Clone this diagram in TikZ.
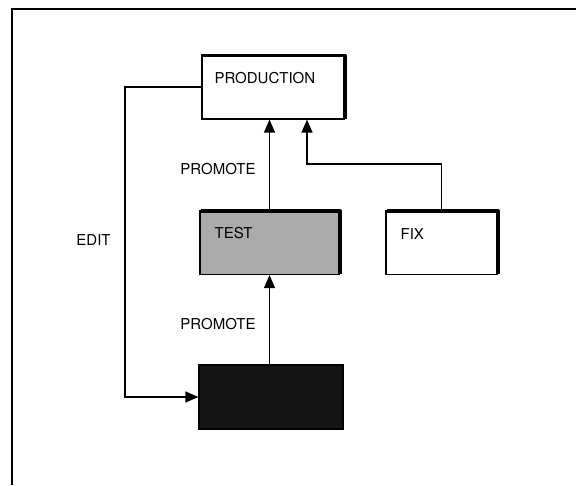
\documentclass[tikz,border=0pt]{standalone}
\usepackage{fontspec}
\setmainfont{TeX Gyre Heros}
\usetikzlibrary{arrows.meta,calc}
\begin{document}
\begin{tikzpicture}[x=1pt,y=1pt,
  box/.style={draw=black,line width=1.2pt,rectangle,minimum width=#1,minimum height=64,inner sep=0pt},
  txt/.style={font=\fontsize{15}{18}\selectfont,inner sep=0pt},
  arr/.style={draw=black,line width=1.2pt,-{Triangle[length=13pt,width=11pt]}},
  wire/.style={draw=black,line width=1.2pt}]
\useasboundingbox (0,0) rectangle (576,485);
% frame (open at right and bottom)
\draw[line width=1.6pt] (12,0) -- (12,476) -- (576,476);
% boxes
\node[box=142] (prod) at (273,398) {};
\node[box=139,fill=black!33] (test) at (269.5,242.5) {};
\node[box=111] (fix) at (441.5,242.5) {};
\node[box=144,fill=black!92] (dark) at (271,88) {};
% thick shadow edges (top and right)
\foreach \b in {prod,test,fix}{
  \draw[line width=3.6pt,line join=round] ($(\b.north west)+(1.5,-1)$) -- ($(\b.north east)+(0.5,-1)$) -- ($(\b.south east)+(0.5,1)$);
}
% box texts
\node[txt,anchor=west] (tprod) at ($(prod.north west)+(13,-24)$) {PRODUCTION};
\node[txt,anchor=west] (ttest) at ($(test.north west)+(15,-23)$) {TEST};
\node[txt,anchor=west] (tfix) at ($(fix.north west)+(15,-24)$) {FIX};
% connectors
\draw[arr] (dark.north -| test.south) -- (test.south);
\draw[arr] (test.north) -- (test.north |- prod.south);
\coordinate (fj) at (307,321);
\draw[arr] (fix.north) |- (fj) -- (fj |- prod.south);
\coordinate (ec) at (125,245);
\draw[arr] (prod.west) -- (prod.west -| ec) -- (ec |- dark.west) -- (dark.west);
% labels
\node[txt] (lp1) at (218,316) {PROMOTE};
\node[txt] (lp2) at (218,161) {PROMOTE};
\node[txt] (le) at (93.5,245) {EDIT};
\end{tikzpicture}
\end{document}
